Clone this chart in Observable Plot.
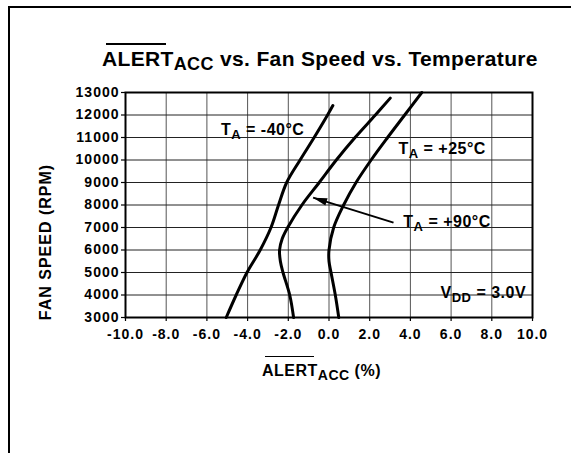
<!DOCTYPE html>
<html>
<head>
<meta charset="utf-8">
<script src="https://cdn.jsdelivr.net/npm/d3@7"></script>
<script src="https://cdn.jsdelivr.net/npm/@observablehq/plot@0.6"></script>
<style>
  html, body { margin: 0; padding: 0; background: white; }
  #wrap { position: relative; width: 571px; height: 453px; overflow: hidden; background: white;
          font-family: "Liberation Sans", Arial, Helvetica, sans-serif; font-weight: bold; color: black; }
  #border { position: absolute; left: 8px; top: 6px; width: 700px; height: 700px; border: 2px solid black; box-sizing: border-box; }
  #chart { position: absolute; left: 0; top: 0; }
  .txt { position: absolute; white-space: nowrap; }
  .ol { position: absolute; height: 1.5px; background: black; }
</style>
</head>
<body>
<div id="wrap">
  <div id="border"></div>
  <div id="chart"></div>
  <div class="ol" style="left:106px; top:43px; width:60px;"></div>
  <div class="txt" id="title" style="left:102px; top:48px; font-size:21px; line-height:21px; letter-spacing:0.35px;">ALERT<span style="font-size:18px; position:relative; top:3.7px;">ACC</span> vs. Fan Speed vs. Temperature</div>
  <div class="ol" style="left:265px; top:355.5px; width:49px;"></div>
  <div class="txt" id="xlabel" style="left:262px; top:363px; font-size:16px; line-height:16px; letter-spacing:0.5px;">ALERT<span style="font-size:14px; position:relative; top:4px;">ACC</span> (%)</div>
  <div class="txt" id="ylabel" style="left:-54.5px; top:233.7px; width:200px; text-align:center; font-size:16px; line-height:16px; letter-spacing:1px; transform:rotate(-90deg); transform-origin:50% 50%;">FAN SPEED (RPM)</div>
</div>
<script>
// ---- Data ----
const xTicks = [-10, -8, -6, -4, -2, 0, 2, 4, 6, 8, 10];
const yTicks = [3000, 4000, 5000, 6000, 7000, 8000, 9000, 10000, 11000, 12000, 13000];

// T_A = -40°C
const speedM40 = [3000, 4000, 5000, 6000, 7000, 8000, 9000, 10000, 11000, 12000, 12420];
const accM40   = [-5.05, -4.56, -4.03, -3.38, -2.85, -2.48, -2.08, -1.42, -0.73, -0.07, 0.19];
// T_A = +90°C
const speedP90 = [3000, 4000, 5000, 5500, 6000, 6500, 7000, 8000, 9000, 10000, 11000, 12000, 12750];
const accP90   = [-1.74, -1.93, -2.26, -2.39, -2.43, -2.3, -2.03, -1.33, -0.48, 0.36, 1.28, 2.28, 3.01];
// T_A = +25°C
const speedP25 = [3000, 4000, 5000, 5500, 6000, 7000, 8000, 9000, 10000, 11000, 12000, 13000];
const accP25   = [0.48, 0.31, 0.1, 0.0, 0.0, 0.23, 0.72, 1.33, 2.07, 2.88, 3.72, 4.56];

// annotation labels
const annText = ["T_A = -40°C", "T_A = +25°C", "T_A = +90°C", "V_DD = 3.0V"];
const annX = [-5.31, 3.41, 3.65, 5.48];
const annY = [11104, 10285, 7023, 3877];

// arrow from +90°C label to its curve
const arrowTail = [3.17, 7215];
const arrowTip = [-0.78, 8327];

// ---- Build tables ----
const curveRows = [];
speedM40.forEach((s, i) => curveRows.push({series: "-40", speed: s, acc: accM40[i]}));
speedP90.forEach((s, i) => curveRows.push({series: "+90", speed: s, acc: accP90[i]}));
speedP25.forEach((s, i) => curveRows.push({series: "+25", speed: s, acc: accP25[i]}));
const annRows = annText.map((t, i) => ({text: t, x: annX[i], y: annY[i]}));
const arrowRows = [{x1: arrowTail[0], y1: arrowTail[1], x2: arrowTip[0], y2: arrowTip[1]}];

const arrowHead = {
  draw(ctx) { ctx.moveTo(0, 0); ctx.lineTo(-3.8, 14); ctx.lineTo(3.8, 14); ctx.closePath(); }
};

const plot = Plot.plot({
  width: 571,
  height: 453,
  marginLeft: 125,
  marginRight: 39,
  marginTop: 92,
  marginBottom: 136,
  x: {domain: [-10, 10]},
  y: {domain: [3000, 13000]},
  style: "font-family: 'Liberation Sans', Arial, Helvetica, sans-serif; font-weight: bold; font-size: 14px; letter-spacing: 1px; color: black; background: transparent; overflow: visible;",
  marks: [
    Plot.gridX(xTicks, {stroke: "#555", strokeOpacity: 1, strokeWidth: 1}),
    Plot.gridY(yTicks, {stroke: "#222", strokeOpacity: 1, strokeWidth: 1}),
    Plot.axisX(xTicks, {tickFormat: d => d.toFixed(1), tickSize: 4, tickPadding: 8, label: null, stroke: "black", strokeWidth: 1.2}),
    Plot.axisY(yTicks, {tickFormat: d => String(d), tickSize: 4, tickPadding: 2, label: null, stroke: "black", strokeWidth: 1.2}),
    Plot.frame({stroke: "black", strokeWidth: 2}),
    Plot.line(curveRows, {x: "acc", y: "speed", z: "series", curve: "catmull-rom", stroke: "black", strokeWidth: 3}),
    Plot.link(arrowRows, {x1: "x1", y1: "y1", x2: "x2", y2: "y2", stroke: "black", strokeWidth: 2}),
    Plot.dot(arrowRows, {x: "x2", y: "y2", symbol: arrowHead, r: 1, fill: "black", stroke: "none", rotate: -72.7}),
    Plot.text(annRows, {x: "x", y: "y", text: "text", textAnchor: "start", lineAnchor: "bottom", fontSize: 16, fill: "black"})
  ]
});

document.getElementById("chart").appendChild(plot);

// subscripts in annotation labels
d3.select(plot).selectAll('g[aria-label="text"] text').each(function () {
  const s = this.textContent;
  const m = s.match(/^(\w)_(\w+)(.*)$/);
  if (!m) return;
  const t = d3.select(this);
  t.style("letter-spacing", "0.5px");
  t.text(null);
  t.append("tspan").text(m[1]);
  t.append("tspan").attr("font-size", 13).attr("dy", 4).text(m[2]);
  t.append("tspan").attr("dy", -4).text(m[3]);
});
</script>
</body>
</html>
